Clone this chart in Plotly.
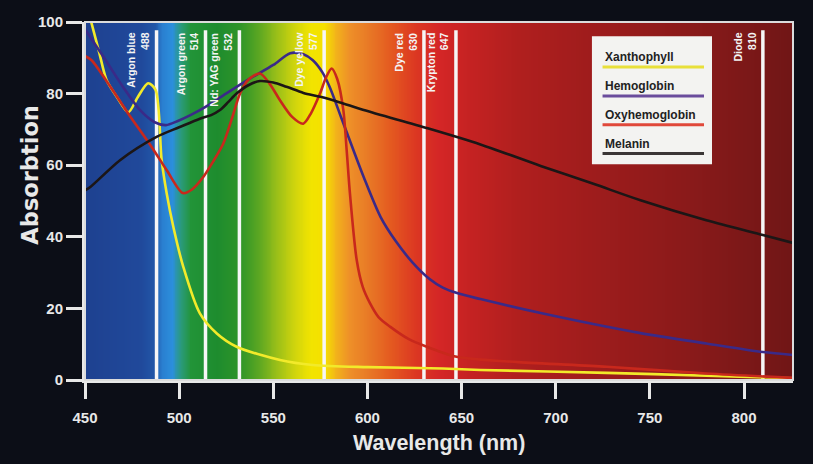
import numpy as np
import plotly.graph_objects as go

# ---------------- data ----------------
xan_nm = [450, 453.5, 457.5, 461.5, 467, 473, 478, 483.5, 487.5, 490.7, 493.4, 496.9, 502.2, 511, 520, 530.5, 553.6, 571, 600, 640, 660, 727, 780, 826]
xan_abs = [106, 99.6, 91.6, 83.7, 79, 74.8, 79, 82.9, 81, 61.4, 52.1, 42.8, 31.6, 18.6, 13, 9.3, 5.6, 4.2, 3.6, 3.2, 2.8, 2.0, 1.2, 0.5]

hb_nm = [450, 461, 470, 479, 487, 493, 499, 506, 514, 522, 536, 550, 559, 566, 571, 576, 580, 586, 589, 598, 607, 615, 624, 633, 640, 648, 660, 692, 745, 780, 810, 826]
hb_abs = [98, 89.3, 82, 75.5, 72, 71.2, 72.3, 74, 76.3, 79, 83.7, 88, 91.3, 91, 89.3, 86, 81.8, 73.4, 69.2, 56.7, 45.5, 38.8, 32.8, 28.2, 25.8, 24.2, 22.6, 18.7, 13.1, 10.2, 7.8, 7]

oxy_nm = [450, 453.5, 464, 473, 485.4, 493.4, 502, 507, 512.8, 518, 523.4, 528, 532.3, 537, 542.9, 548, 553.6, 560, 565.9, 570, 574.8, 578, 581, 584, 587.2, 589, 590.7, 594.3, 597.5, 601.4, 606, 612, 622, 631.5, 648, 680, 727, 780, 826]
oxy_abs = [90.5, 89.3, 81.5, 74.4, 65.1, 58.6, 52.2, 53.3, 56.7, 61, 66, 73, 80, 84, 85.6, 82.8, 78.1, 73.5, 71.6, 74.5, 80, 84.5, 87, 84, 75.4, 64, 52.1, 33.5, 26, 21.4, 17.5, 14.9, 11.4, 9.3, 6.4, 5, 3.7, 1.8, 0.6]

mel_nm = [450, 453, 468.6, 488, 500, 511, 517, 521.7, 526, 530.5, 537, 542.9, 550, 557, 566, 575, 585, 598, 632, 660, 692, 720, 745, 780, 810, 826]
mel_abs = [53, 54, 61.4, 67.9, 70.6, 73, 74, 75.4, 77.6, 80, 82.4, 83.5, 83.1, 81.9, 80.2, 79.1, 77.6, 75.4, 70.3, 65.8, 59.8, 54.8, 50.2, 44.6, 40.5, 38.3]

series_names = ["Xanthophyll", "Hemoglobin", "Oxyhemoglobin", "Melanin"]
series_x = [xan_nm, hb_nm, oxy_nm, mel_nm]
series_y = [xan_abs, hb_abs, oxy_abs, mel_abs]
series_colors = ["#f2ea2a", "#3a2a88", "#c8281c", "#1c1616"]
legend_colors = ["#e8e03a", "#6a4c9c", "#e0483a", "#3a3636"]

laser_nm = [488, 514, 532, 577, 630, 647, 810]
laser_names = ["Argon blue", "Argon green", "Nd: YAG green", "Dye yellow", "Dye red", "Krypton red", "Diode"]

x_ticks = [450, 500, 550, 600, 650, 700, 750, 800]
y_ticks = [0, 20, 40, 60, 80, 100]

spec_nm = [450, 480, 487, 491, 496, 501, 506, 520, 532, 542, 552, 562, 570, 577, 583, 590, 600, 612, 625, 638, 655, 680, 720, 770, 826]
spec_col = ["#1e4190", "#20499b", "#2157a8", "#2a7fd0", "#2b8fdc", "#2a9a78", "#229438", "#1e8c2e", "#2e9428",
            "#5aa622", "#9cc018", "#d4d60c", "#f2e400", "#f5e000", "#f2b41a", "#ee9028", "#e87a26", "#e45a20",
            "#dc3822", "#d42626", "#c42222", "#b01f1e", "#9e1c1c", "#8a1a1a", "#701616"]

X_MIN, X_MAX = 450, 826

# ---------------- figure ----------------
fig = go.Figure()

grid = np.arange(X_MIN, X_MAX + 1, 1.0)
cscale = [[(w - X_MIN) / (X_MAX - X_MIN), c] for w, c in zip(spec_nm, spec_col)]
fig.add_trace(go.Heatmap(x=grid, y=[-2, 102], z=[grid, grid], colorscale=cscale,
                         zmin=X_MIN, zmax=X_MAX, showscale=False, zsmooth="best", hoverinfo="skip"))

for w in laser_nm:
    fig.add_trace(go.Scatter(x=[w, w], y=[0, 97.7], mode="lines",
                             line=dict(color="#f6f6f6", width=3.5), hoverinfo="skip", showlegend=False))

for xs, ys, name, col in zip(series_x, series_y, series_names, series_colors):
    fig.add_trace(go.Scatter(x=xs, y=ys, mode="lines", name=name,
                             line=dict(color=col, width=2.6, shape="spline", smoothing=0.8),
                             showlegend=False))

text_col = "#e8e8e8"
fnt = "Liberation Sans, Arial, sans-serif"

annotations = []
for w, nm in zip(laser_nm, laser_names):
    annotations.append(dict(x=w, y=97.7, xref="x", yref="y", text=f"{nm}<br>{w}", showarrow=False,
                            textangle=-90, xanchor="right", yanchor="top", align="right", xshift=-3,
                            font=dict(family=fnt, size=10.5, color="#f4f4f4", weight="bold")))

# axis titles
annotations.append(dict(x=-0.078, y=0.573, xref="paper", yref="paper", text="Absorbtion", showarrow=False,
                        textangle=-90, xanchor="center", yanchor="middle",
                        font=dict(family="DejaVu Sans, sans-serif", size=22.5, color=text_col, weight="bold")))
annotations.append(dict(x=0.5, y=-0.176, xref="paper", yref="paper", text="Wavelength (nm)", showarrow=False,
                        xanchor="center", yanchor="middle",
                        font=dict(family=fnt, size=21.5, color=text_col, weight="bold")))

shapes = []
# frame
shapes.append(dict(type="rect", xref="paper", yref="paper", x0=0, x1=1, y0=0, y1=1,
                   line=dict(color="#dcdcdc", width=2), layer="above"))
# custom legend
lx0, lx1, ly_top, ly_bot = 0.716, 0.8856, 0.960, 0.603
shapes.append(dict(type="rect", xref="paper", yref="paper", x0=lx0, x1=lx1, y0=ly_bot, y1=ly_top,
                   fillcolor="#f3f3f1", line=dict(width=0), layer="above"))
step = 0.0805
for i, (name, col) in enumerate(zip(series_names, legend_colors)):
    ty = 0.902 - i * step
    ly = 0.874 - i * step
    annotations.append(dict(x=0.7316, y=ty, xref="paper", yref="paper", text=name, showarrow=False,
                            xanchor="left", yanchor="middle",
                            font=dict(family=fnt, size=12, color="#222222", weight="bold")))
    shapes.append(dict(type="line", xref="paper", yref="paper", x0=0.731, x1=0.8743, y0=ly, y1=ly,
                       line=dict(color=col, width=3), layer="above"))

axis_common = dict(showline=True, linecolor=text_col, linewidth=3, ticks="outside", ticklen=16,
                   tickwidth=3, tickcolor=text_col, showgrid=False, zeroline=False,
                   tickfont=dict(family=fnt, size=15, color=text_col, weight="bold"))

fig.update_layout(
    width=813, height=464,
    margin=dict(l=85, r=20, t=22, b=84),
    paper_bgcolor="#0c0e17",
    plot_bgcolor="#0c0e17",
    showlegend=False,
    xaxis=dict(range=[X_MIN, X_MAX], tickvals=x_ticks, ticklabelstandoff=6, **axis_common),
    yaxis=dict(range=[0, 100], tickvals=y_ticks, ticklabelstandoff=0, **axis_common),
    annotations=annotations,
    shapes=shapes,
)

fig.write_html("out.html", config={"displayModeBar": False},
               post_script="document.body.style.margin='0';document.body.style.background='#0c0e17';")
